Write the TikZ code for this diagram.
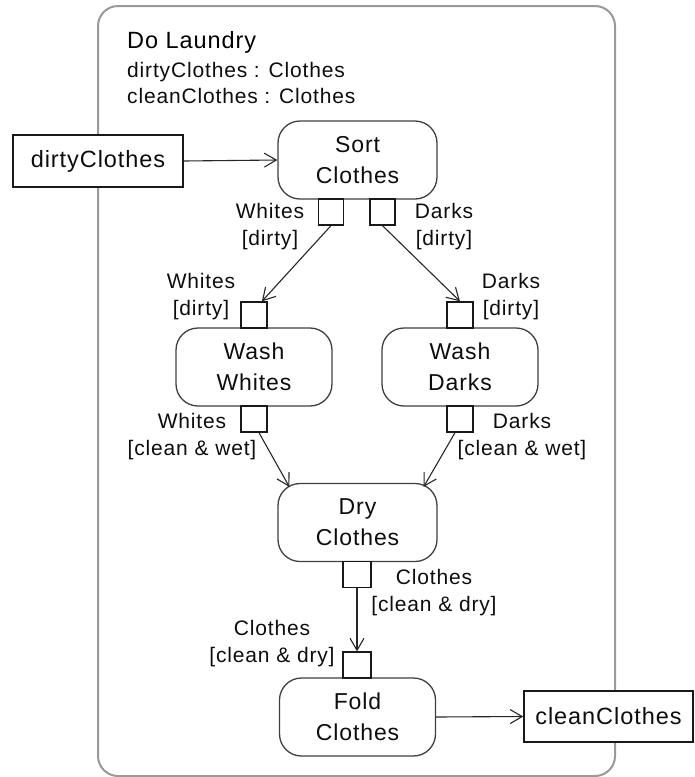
\documentclass[tikz,border=0pt]{standalone}
\usepackage{fontspec}
\setmainfont{Liberation Sans}[LetterSpace=4]
\usetikzlibrary{arrows.meta,calc}

\tikzset{
  action/.style={draw=black!75, fill=white, line width=1.3pt, rounded corners=22pt,
    minimum width=159pt, minimum height=78pt, inner sep=0pt, align=center,
    text=black!95, font=\fontsize{23}{31}\selectfont},
  actpin/.style={draw=black!90, fill=white, line width=1.3pt,
    minimum width=26pt, minimum height=26pt, inner sep=0pt},
  objbox/.style={draw=black!90, fill=white, line width=1.5pt,
    minimum width=170pt, minimum height=52pt, inner sep=0pt,
    text=black!95, font=\fontsize{23.5}{26}\selectfont},
  lbl/.style={align=center, inner sep=0pt, text=black!95,
    font=\fontsize{21}{27}\selectfont},
  flow/.style={-{Straight Barb[length=12pt,width=14pt]}, line width=1.1pt, draw=black!85},
  frame/.style={draw=black!40, line width=2pt, rounded corners=20pt}
}

\begin{document}
\begin{tikzpicture}[x=1pt,y=-1pt]
\useasboundingbox (0,0) rectangle (695,777);

% activity frame
\draw[frame] (98,6) rectangle (615,776);

% activity name and parameters
\node[anchor=base west, inner sep=0pt, text=black, font=\fontsize{23.5}{27}\selectfont] (title) at (127,48) {Do Laundry};
\node[anchor=base west, inner sep=0pt, text=black!95, font=\fontsize{21}{27}\selectfont] (parin) at (127,77) {dirtyClothes : Clothes};
\node[anchor=base west, inner sep=0pt, text=black!95, font=\fontsize{21}{27}\selectfont] (parout) at (127,103) {cleanClothes : Clothes};

% parameter nodes
\node[objbox] (dirty) at (98,161) {dirtyClothes};
\node[objbox, minimum width=169pt, minimum height=51pt] (clean) at (608.5,716.5) {cleanClothes};

% actions
\node[action] (sort) at (357.5,160) {Sort\\Clothes};
\node[action, minimum width=156pt] (washw) at (254,367) {Wash\\Whites};
\node[action, minimum width=156pt] (washd) at (460,367) {Wash\\Darks};
\node[action] (dry) at (357.5,522.5) {Dry\\Clothes};
\node[action, minimum width=156pt] (fold) at (357.5,717) {Fold\\Clothes};

% pins
\node[actpin, minimum width=25pt] (sortw) at (331,212) {};
\node[actpin, minimum width=25pt] (sortd) at (382.5,212) {};
\node[actpin] (wwin) at (254,315) {};
\node[actpin] (wdin) at (460,315) {};
\node[actpin] (wwout) at (254,419) {};
\node[actpin] (wdout) at (460,419) {};
\node[actpin, minimum width=28pt] (drypin) at (357,574.5) {};
\node[actpin, minimum width=28pt] (foldpin) at (357,665) {};

% pin labels
\node[lbl] (lsortw) at (270,227) {Whites\\{[dirty]}};
\node[lbl] (lsortd) at (444,227) {Darks\\{[dirty]}};
\node[lbl] (lwwin) at (201,296.5) {Whites\\{[dirty]}};
\node[lbl] (lwdin) at (511,296.5) {Darks\\{[dirty]}};
\node[lbl] (lwwout) at (192,437) {Whites\\{[clean \& wet]}};
\node[lbl] (lwdout) at (522,437) {Darks\\{[clean \& wet]}};
\node[lbl] (ldry) at (434,593) {Clothes\\{[clean \& dry]}};
\node[lbl] (lfold) at (272,644) {Clothes\\{[clean \& dry]}};

% object flows
\draw[flow] (dirty.east) -- (sort.west);
\draw[flow] (sortw.south) -- (wwin.60);
\draw[flow] (sortd.south) -- (wdin.north);
\draw[flow] (wwout.-70) -- ($(dry.north west)+(12,4)$);
\draw[flow] (wdout.-110) -- ($(dry.north east)+(-14,4)$);
\draw[flow] (drypin.south) -- (foldpin.north);
\draw[flow] (fold.east) -- (clean.west);
\end{tikzpicture}
\end{document}
